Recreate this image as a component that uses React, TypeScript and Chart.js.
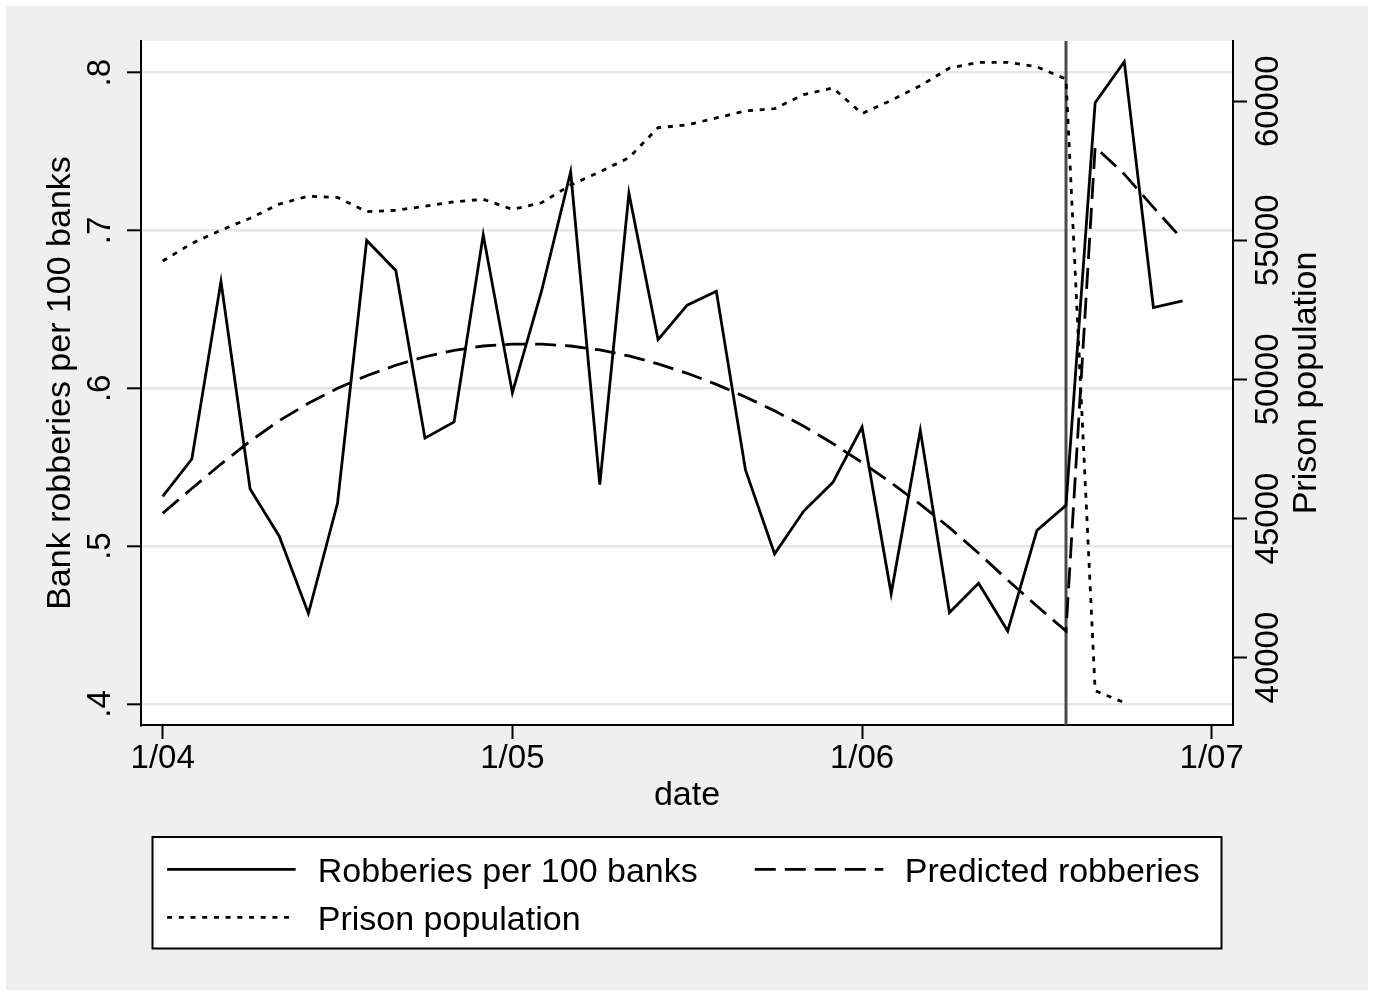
import { useEffect, useRef } from 'react';
import { Chart, registerables } from 'chart.js';

Chart.register(...registerables);

// ---------------- data ----------------
const dates = [
  '2004-01', '2004-02', '2004-03', '2004-04', '2004-05', '2004-06',
  '2004-07', '2004-08', '2004-09', '2004-10', '2004-11', '2004-12',
  '2005-01', '2005-02', '2005-03', '2005-04', '2005-05', '2005-06',
  '2005-07', '2005-08', '2005-09', '2005-10', '2005-11', '2005-12',
  '2006-01', '2006-02', '2006-03', '2006-04', '2006-05', '2006-06',
  '2006-07', '2006-08', '2006-09', '2006-10', '2006-11', '2006-12',
];

const robberies = [
  0.5315, 0.5552, 0.6677, 0.5362, 0.5063, 0.4573,
  0.5273, 0.6937, 0.6747, 0.5684, 0.5787, 0.6973,
  0.5972, 0.6615, 0.7371, 0.5390, 0.7236, 0.6308,
  0.6527, 0.6615, 0.5483, 0.4951, 0.5222, 0.5404,
  0.5754, 0.4699, 0.5734, 0.4579, 0.4764, 0.4462,
  0.5099, 0.5259, 0.7810, 0.8070, 0.6512, 0.6554,
];

const predicted = [
  0.5208, 0.5365, 0.5520, 0.5665, 0.5795, 0.5905,
  0.6000, 0.6080, 0.6146, 0.6200, 0.6240, 0.6268,
  0.6280, 0.6280, 0.6268, 0.6243, 0.6205, 0.6155,
  0.6095, 0.6025, 0.5945, 0.5857, 0.5760, 0.5650,
  0.5530, 0.5402, 0.5265, 0.5117, 0.4955, 0.4785,
  0.4620, 0.4462, 0.7530, 0.7357, 0.7147, 0.6943,
];

const prison: (number | null)[] = [
  54254, 54889, 55365, 55794, 56302, 56587,
  56540, 56032, 56079, 56222, 56381, 56476,
  56111, 56349, 56984, 57460, 57968, 59048,
  59150, 59397, 59651, 59730, 60238, 60476,
  59556, 60032, 60556, 61190, 61397, 61397,
  61238, 60794, 38810, 38381, null, null,
];

const seriesNames = ['Robberies per 100 banks', 'Predicted robberies', 'Prison population'];

const xTickDates = ['2004-01', '2005-01', '2006-01', '2007-01'];
const xTickLabels = ['1/04', '1/05', '1/06', '1/07'];
const yTicks = [0.4, 0.5, 0.6, 0.7, 0.8];
const yTickLabels = ['.4', '.5', '.6', '.7', '.8'];
const y2Ticks = [40000, 45000, 50000, 55000, 60000];
const y2TickLabels = ['40000', '45000', '50000', '55000', '60000'];
const xLineDate = '2006-08';

const xTitle = 'date';
const yTitle = 'Bank robberies per 100 banks';
const y2Title = 'Prison population';

// ---------------- layout / style ----------------
const FONT = "'Liberation Sans', Arial, Helvetica, sans-serif";
const CW = 1362;
const CH = 984;
const X_MIN = -0.745;
const X_MAX = 36.731;
const Y_MIN = 0.38663;
const Y_MAX = 0.82009;
const Y2_MIN = 37577;
const Y2_MAX = 62164;

function monthIndex(d: string): number {
  const [y, m] = d.split('-').map(Number);
  return (y - 2004) * 12 + (m - 1);
}

export default function App() {
  const ref = useRef<HTMLCanvasElement>(null);

  useEffect(() => {
    const canvas = ref.current;
    if (!canvas) return;

    const bgPlugin = {
      id: 'bgPlugin',
      beforeDraw(chart: any) {
        const { ctx, chartArea: a, width, height } = chart;
        ctx.save();
        ctx.fillStyle = '#efefef';
        ctx.fillRect(0, 0, width, height);
        ctx.fillStyle = '#ffffff';
        ctx.fillRect(a.left, a.top, a.right - a.left, a.bottom - a.top);
        ctx.restore();
      },
    };

    const xLinePlugin = {
      id: 'xLinePlugin',
      beforeDatasetsDraw(chart: any) {
        const { ctx, chartArea: a } = chart;
        const px = chart.scales.x.getPixelForValue(monthIndex(xLineDate));
        ctx.save();
        ctx.strokeStyle = '#4a4a4a';
        ctx.lineWidth = 3;
        ctx.beginPath();
        ctx.moveTo(px, a.top);
        ctx.lineTo(px, a.bottom);
        ctx.stroke();
        ctx.restore();
      },
    };

    const textPlugin = {
      id: 'textPlugin',
      afterDraw(chart: any) {
        const { ctx, chartArea: a } = chart;
        const ys = chart.scales.y;
        const y2s = chart.scales.y2;
        ctx.save();
        ctx.fillStyle = '#000';
        ctx.textAlign = 'center';
        ctx.textBaseline = 'alphabetic';
        ctx.font = `33px ${FONT}`;
        yTicks.forEach((v, i) => {
          const py = ys.getPixelForValue(v);
          ctx.save();
          ctx.translate(ys.right - 31, py);
          ctx.rotate(-Math.PI / 2);
          ctx.fillText(yTickLabels[i], 0, 0);
          ctx.restore();
        });
        y2Ticks.forEach((v, i) => {
          const py = y2s.getPixelForValue(v);
          ctx.save();
          ctx.translate(y2s.left + 45, py);
          ctx.rotate(-Math.PI / 2);
          ctx.fillText(y2TickLabels[i], 0, 0);
          ctx.restore();
        });
        ctx.font = `34px ${FONT}`;
        ctx.save();
        ctx.translate(y2s.left + 83, (a.top + a.bottom) / 2);
        ctx.rotate(-Math.PI / 2);
        ctx.fillText(y2Title, 0, 0);
        ctx.restore();
        ctx.restore();
      },
    };

    const legendPlugin = {
      id: 'legendPlugin',
      afterDraw(chart: any) {
        const { ctx, chartArea: a } = chart;
        const boxW = 1069;
        const boxH = 111.5;
        const left = (a.left + a.right) / 2 - boxW / 2;
        const top = 831;
        ctx.save();
        ctx.fillStyle = '#ffffff';
        ctx.fillRect(left, top, boxW, boxH);
        ctx.strokeStyle = '#000';
        ctx.lineWidth = 2;
        ctx.strokeRect(left, top, boxW, boxH);
        const slots = [
          { col: 0, row: 0 },
          { col: 1, row: 0 },
          { col: 0, row: 1 },
        ];
        const colSym = [14.6, 602.3];
        const colText = [165.3, 752.3];
        const rowY = [32.3, 80.3];
        chart.data.datasets.forEach((ds: any, i: number) => {
          const s = slots[i];
          const cy = top + rowY[s.row];
          ctx.save();
          ctx.strokeStyle = ds.borderColor;
          ctx.lineWidth = ds.borderWidth;
          ctx.setLineDash(ds.borderDash || []);
          ctx.lineCap = 'butt';
          ctx.beginPath();
          ctx.moveTo(left + colSym[s.col], cy);
          ctx.lineTo(left + colSym[s.col] + 128.5, cy);
          ctx.stroke();
          ctx.restore();
          ctx.fillStyle = '#000';
          ctx.font = `34px ${FONT}`;
          ctx.textAlign = 'left';
          ctx.textBaseline = 'alphabetic';
          ctx.fillText(ds.label, left + colText[s.col], cy + 12.5);
        });
        ctx.restore();
      },
    };

    const toPts = (arr: (number | null)[]) =>
      dates.map((d, i) => ({ x: monthIndex(d), y: arr[i] }));

    const chart = new Chart(canvas, {
      type: 'line',
      data: {
        datasets: [
          {
            label: seriesNames[0],
            data: toPts(robberies),
            yAxisID: 'y',
            borderColor: '#000',
            borderWidth: 2.8,
            borderDash: [],
            pointRadius: 0,
            tension: 0,
            fill: false,
          },
          {
            label: seriesNames[1],
            data: toPts(predicted),
            yAxisID: 'y',
            borderColor: '#000',
            borderWidth: 2.8,
            borderDash: [21, 9],
            pointRadius: 0,
            tension: 0,
            fill: false,
          },
          {
            label: seriesNames[2],
            data: toPts(prison),
            yAxisID: 'y2',
            borderColor: '#000',
            borderWidth: 2.8,
            borderDash: [5, 6.7],
            pointRadius: 0,
            tension: 0,
            fill: false,
            spanGaps: false,
          },
        ],
      } as any,
      options: {
        responsive: false,
        animation: false,
        devicePixelRatio: 1,
        events: [],
        layout: { padding: { top: 35, left: 0, right: 0, bottom: 0 } },
        plugins: {
          legend: { display: false },
          tooltip: { enabled: false },
        },
        scales: {
          x: {
            type: 'linear',
            position: 'bottom',
            min: X_MIN,
            max: X_MAX,
            afterBuildTicks: (s: any) => {
              s.ticks = xTickDates.map((d) => ({ value: monthIndex(d) }));
            },
            afterFit: (s: any) => {
              s.height = CH - 719;
            },
            ticks: {
              autoSkip: false,
              maxRotation: 0,
              minRotation: 0,
              padding: 0,
              color: '#000',
              font: { family: FONT, size: 33 },
              callback: (_v: any, i: number) => xTickLabels[i],
            },
            grid: {
              drawOnChartArea: false,
              drawTicks: true,
              tickLength: 14,
              tickWidth: 2,
              tickColor: '#000',
            },
            border: { display: true, color: '#000', width: 2 },
            title: {
              display: true,
              text: xTitle,
              color: '#000',
              font: { family: FONT, size: 34 },
              padding: { top: 0, bottom: 173.6 },
            },
          },
          y: {
            type: 'linear',
            position: 'left',
            min: Y_MIN,
            max: Y_MAX,
            afterBuildTicks: (s: any) => {
              s.ticks = yTicks.map((v) => ({ value: v }));
            },
            afterFit: (s: any) => {
              s.width = 135;
            },
            ticks: { display: false },
            grid: {
              color: '#e6e6e6',
              lineWidth: 2.6,
              drawTicks: true,
              tickLength: 14,
              tickWidth: 2,
              tickColor: '#000',
            },
            border: { display: true, color: '#000', width: 2 },
            title: {
              display: true,
              text: yTitle,
              color: '#000',
              font: { family: FONT, size: 34 },
              padding: { top: 33.8, bottom: 0 },
            },
          },
          y2: {
            type: 'linear',
            position: 'right',
            min: Y2_MIN,
            max: Y2_MAX,
            afterBuildTicks: (s: any) => {
              s.ticks = y2Ticks.map((v) => ({ value: v }));
            },
            afterFit: (s: any) => {
              s.width = 135;
            },
            ticks: { display: false },
            grid: {
              drawOnChartArea: false,
              drawTicks: true,
              tickLength: 14,
              tickWidth: 2,
              tickColor: '#000',
            },
            border: { display: true, color: '#000', width: 2 },
          },
        },
      } as any,
      plugins: [bgPlugin, xLinePlugin, textPlugin, legendPlugin],
    });

    return () => {
      chart.destroy();
    };
  }, []);

  return (
    <div
      style={{
        position: 'absolute',
        left: 0,
        top: 0,
        width: 1377,
        height: 994,
        background: '#ffffff',
        overflow: 'hidden',
      }}
    >
      <canvas
        ref={ref}
        width={CW}
        height={CH}
        style={{ position: 'absolute', left: 6, top: 6, width: CW, height: CH }}
      />
    </div>
  );
}
